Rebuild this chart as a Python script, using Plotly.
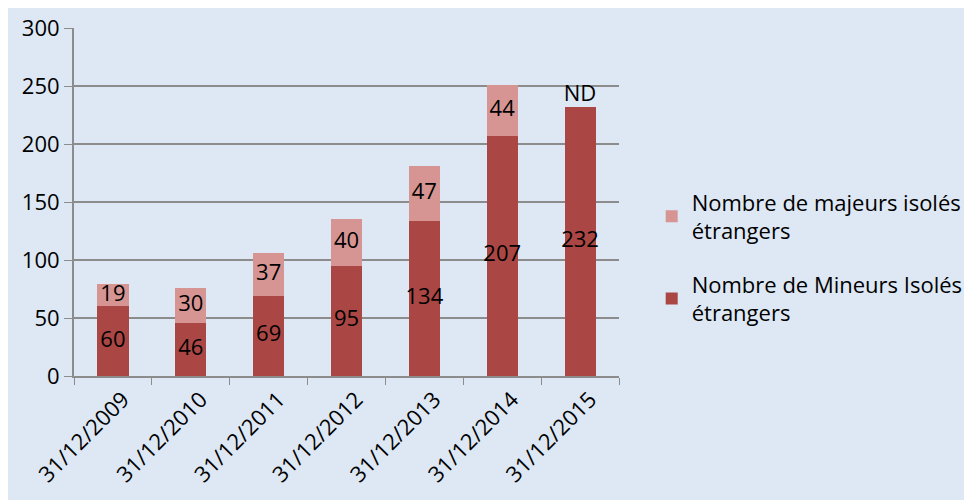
import plotly.graph_objects as go

dates = ["31/12/2009", "31/12/2010", "31/12/2011", "31/12/2012",
         "31/12/2013", "31/12/2014", "31/12/2015"]
mineurs = [60, 46, 69, 95, 134, 207, 232]
majeurs = [19, 30, 37, 40, 47, 44, None]

BG = "#dde8f4"
DARK = "#aa4744"
LIGHT = "#d69593"
GRID = "#8c8c8c"
FONT = "Open Sans"
FS = 22

fig = go.Figure()
fig.add_trace(go.Bar(
    x=dates, y=mineurs,
    name="Nombre de Mineurs Isolés<br>étrangers",
    legendgroup="min", legendrank=2,
    marker=dict(color=DARK, line=dict(width=0)),
))
fig.add_trace(go.Bar(
    x=dates, y=majeurs,
    name="Nombre de majeurs isolés<br>étrangers",
    legendgroup="maj", legendrank=1,
    marker=dict(color=LIGHT, line=dict(width=0)),
))

# value labels centred in each segment (not shrunk to bar width)
mid_min = [v / 2 for v in mineurs]
fig.add_trace(go.Scatter(
    x=dates, y=mid_min, mode="text", text=[str(v) for v in mineurs],
    textfont=dict(size=FS, color="black", family=FONT),
    showlegend=False, hoverinfo="skip",
))
maj_x = [d for d, v in zip(dates, majeurs) if v is not None]
maj_y = [m + v / 2 for m, v in zip(mineurs, majeurs) if v is not None]
maj_t = [str(v) for v in majeurs if v is not None]
fig.add_trace(go.Scatter(
    x=maj_x, y=maj_y, mode="text", text=maj_t,
    textfont=dict(size=FS, color="black", family=FONT),
    showlegend=False, hoverinfo="skip",
))
# ND marker above the 2015 bar (majeurs value not available)
fig.add_trace(go.Scatter(
    x=[dates[-1]], y=[mineurs[-1]], mode="text", text=["ND"],
    textposition="top center",
    textfont=dict(size=FS, color="black", family=FONT),
    showlegend=False, hoverinfo="skip",
))

fig.update_layout(
    barmode="stack",
    bargap=0.6,
    width=972, height=500,
    paper_bgcolor=BG, plot_bgcolor=BG,
    font=dict(family=FONT, size=FS, color="black"),
    margin=dict(l=66, r=358, t=20, b=132),
    showlegend=True,
    legend=dict(
        x=1.06, y=0.34, yanchor="middle", xanchor="left",
        traceorder="grouped",
        font=dict(size=FS, family=FONT),
        tracegroupgap=22,
        bgcolor="rgba(0,0,0,0)",
    ),
)
fig.update_xaxes(
    tickangle=-45,
    tickson="boundaries",
    ticks="outside", ticklen=7, tickcolor=GRID,
    ticklabelshift=10,
    showline=True, linecolor=GRID, linewidth=2,
    showgrid=False, automargin=False,
    tickfont=dict(size=FS, family=FONT),
)
fig.update_yaxes(
    range=[0, 300], dtick=50,
    ticks="outside", ticklen=8, tickcolor=GRID,
    showline=True, linecolor=GRID, linewidth=2,
    showgrid=True, gridcolor=GRID, gridwidth=1.5,
    zeroline=False, automargin=False,
    tickfont=dict(size=FS, family=FONT),
)

fig.write_html("out.html")
